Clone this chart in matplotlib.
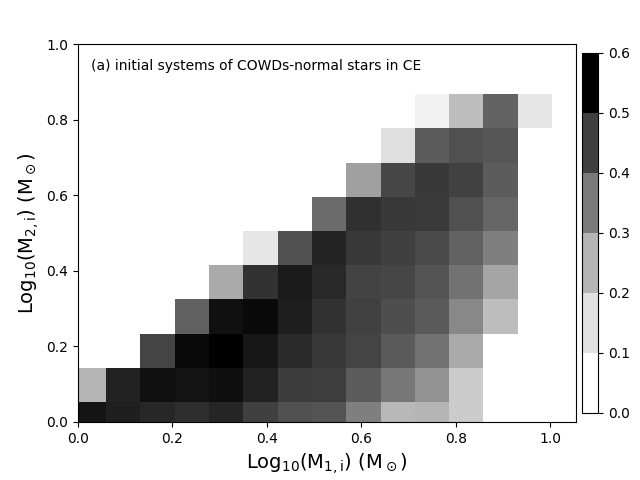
import numpy as np
import matplotlib
matplotlib.use("Agg")
import matplotlib.pyplot as plt
from matplotlib import cm, colors

# bin edges in log10 mass
x_edges = -0.0135 + 0.0727 * np.arange(15)
y_edges = -0.0376 + 0.0905 * np.arange(11)

# fraction per cell, rows = M2 bins (bottom to top), cols = M1 bins
frac = np.array([
    [0.559, 0.535, 0.522, 0.510, 0.523, 0.480, 0.453, 0.443, 0.347, 0.235, 0.240, 0.185, 0.0, 0.0],
    [0.240, 0.531, 0.566, 0.561, 0.568, 0.531, 0.487, 0.485, 0.427, 0.366, 0.306, 0.185, 0.0, 0.0],
    [0.0, 0.0, 0.473, 0.580, 0.600, 0.551, 0.515, 0.490, 0.472, 0.432, 0.377, 0.262, 0.0, 0.0],
    [0.0, 0.0, 0.0, 0.418, 0.566, 0.578, 0.539, 0.502, 0.477, 0.455, 0.432, 0.330, 0.225, 0.0],
    [0.0, 0.0, 0.0, 0.0, 0.262, 0.502, 0.547, 0.517, 0.475, 0.470, 0.445, 0.377, 0.271, 0.0],
    [0.0, 0.0, 0.0, 0.0, 0.0, 0.108, 0.450, 0.527, 0.493, 0.480, 0.463, 0.414, 0.347, 0.0],
    [0.0, 0.0, 0.0, 0.0, 0.0, 0.0, 0.0, 0.393, 0.505, 0.490, 0.488, 0.453, 0.405, 0.0],
    [0.0, 0.0, 0.0, 0.0, 0.0, 0.0, 0.0, 0.0, 0.281, 0.468, 0.492, 0.477, 0.427, 0.0],
    [0.0, 0.0, 0.0, 0.0, 0.0, 0.0, 0.0, 0.0, 0.0, 0.127, 0.427, 0.453, 0.439, 0.0],
    [0.0, 0.0, 0.0, 0.0, 0.0, 0.0, 0.0, 0.0, 0.0, 0.0, 0.065, 0.222, 0.411, 0.108],
])

cbar_ticks = [0.0, 0.1, 0.2, 0.3, 0.4, 0.5, 0.6]

fig = plt.figure(figsize=(6.4, 4.8), dpi=100)
ax = fig.add_axes([0.122, 0.121, 0.778, 0.787])
ax.pcolormesh(x_edges, y_edges, frac, cmap="Greys", vmin=0, vmax=0.6)
ax.set_xlim(0, 1.055)
ax.set_ylim(0, 1.0)
ax.set_xlabel(r"Log$_{10}$(M$_{\rm 1,i}$) (M$_\odot$)", fontsize=14)
ax.set_ylabel(r"Log$_{10}$(M$_{\rm 2,i}$) (M$_\odot$)", fontsize=14)
ax.text(0.025, 0.961, "(a) initial systems of COWDs-normal stars in CE",
        transform=ax.transAxes, fontsize=10, va="top")

# discrete colorbar
cax = fig.add_axes([0.909, 0.14, 0.026, 0.75])
sm = cm.ScalarMappable(norm=colors.BoundaryNorm(np.linspace(0, 0.6, 7), 6),
                       cmap=plt.get_cmap("Greys", 6))
cb = fig.colorbar(sm, cax=cax)
cb.set_ticks(cbar_ticks)

fig.savefig("out.png", dpi=100)
